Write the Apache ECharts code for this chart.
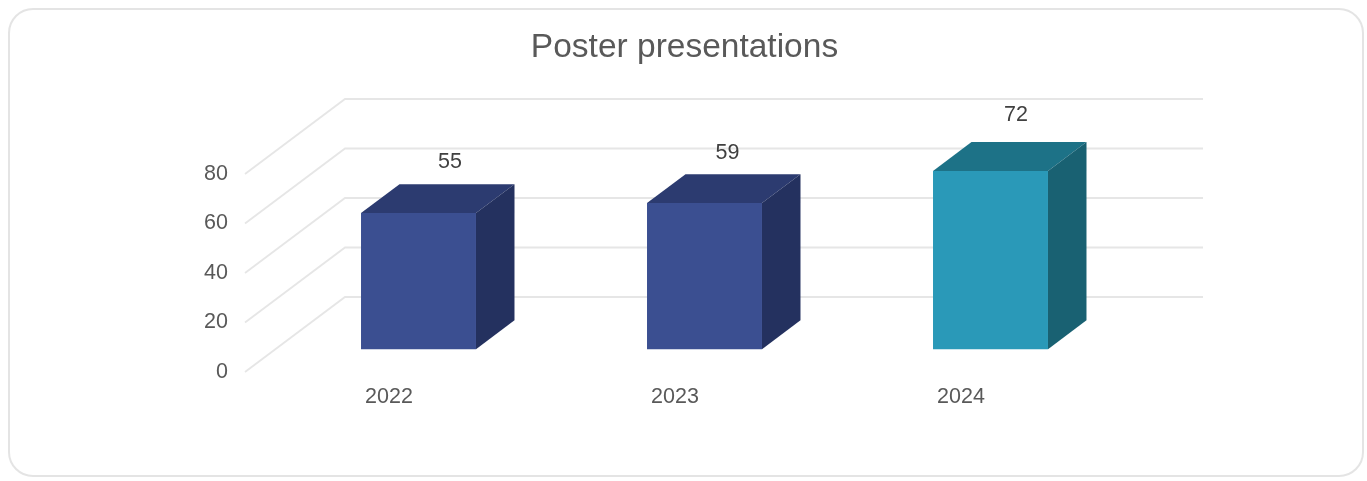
<!DOCTYPE html>
<html>
<head>
<meta charset="utf-8">
<style>html,body{margin:0;padding:0;background:#fff}#c{width:1367px;height:481px}</style>
<script src="https://cdn.jsdelivr.net/npm/echarts@6/dist/echarts.min.js"></script>
</head>
<body>
<div id="c"></div>
<script>
const categories = ['2022', '2023', '2024'];
const values = [55, 59, 72];
const yTicks = [0, 20, 40, 60, 80];

const FONT = '"Liberation Sans", Arial, sans-serif';
const palette = [
  {front: '#3b4f91', top: '#2c3b70', side: '#24315f'},
  {front: '#3b4f91', top: '#2c3b70', side: '#24315f'},
  {front: '#2a99b8', top: '#1d7287', side: '#196172'}
];
// oblique projection of the 3D box: full depth of the floor, in pixels
const DEPTH_X = 100, DEPTH_Y = 75;
const BAR_NEAR = 0.305, BAR_FAR = 0.69, BAR_RATIO = 0.402;
// value-label nudges relative to the projected bar front top centre
const labelDx = [31.5, 23, 25.5], labelDy = [50.5, 50.5, 56];

function renderWall(params, api) {
  const cs = params.coordSys;
  const y = api.coord([0, api.value(0)])[1];
  const x0 = cs.x, x1 = cs.x + DEPTH_X, x2 = cs.x + cs.width + DEPTH_X, y1 = y - DEPTH_Y;
  return {
    type: 'polyline',
    shape: {points: [[x0, y], [x1, y1], [x2, y1]]},
    style: {stroke: '#e6e6e6', lineWidth: 1.8, fill: 'none'},
    silent: true
  };
}

function renderBar(params, api) {
  const i = api.value(0), v = api.value(1);
  const c = palette[i];
  const top = api.coord([i, v]);
  const base = api.coord([i, 0]);
  const w = api.size([1, 0])[0] * BAR_RATIO;
  const dx = DEPTH_X * BAR_NEAR, dy = DEPTH_Y * BAR_NEAR;
  const ex = DEPTH_X * (BAR_FAR - BAR_NEAR), ey = DEPTH_Y * (BAR_FAR - BAR_NEAR);
  const l = top[0] + dx - w / 2, r = l + w, t = top[1] - dy, b = base[1] - dy;
  return {
    type: 'group',
    children: [
      {type: 'polygon', shape: {points: [[l, t], [r, t], [r + ex, t - ey], [l + ex, t - ey]]}, style: {fill: c.top}},
      {type: 'polygon', shape: {points: [[r, t], [r + ex, t - ey], [r + ex, b - ey], [r, b]]}, style: {fill: c.side}},
      {type: 'rect', shape: {x: l, y: t, width: w, height: b - t}, style: {fill: c.front}},
      {type: 'text', style: {
        x: (l + r) / 2 + labelDx[i], y: t - labelDy[i], text: String(v),
        fill: '#404040', font: '21.5px ' + FONT, align: 'center', verticalAlign: 'middle'
      }}
    ]
  };
}

const chart = echarts.init(document.getElementById('c'), null, {renderer: 'canvas'});
chart.setOption({
  animation: false,
  backgroundColor: '#fff',
  graphic: [{
    type: 'rect', z: -10, silent: true,
    shape: {x: 9, y: 9, width: 1354, height: 467, r: 24},
    style: {fill: '#fff', stroke: '#e4e4e4', lineWidth: 2}
  }],
  title: {
    text: 'Poster presentations', left: 679.5, top: 43, textAlign: 'center', textVerticalAlign: 'middle',
    textStyle: {color: '#595959', fontFamily: FONT, fontWeight: 'normal', fontSize: 33.5}
  },
  grid: {left: 245, top: 174, width: 858, height: 198},
  xAxis: {
    type: 'category', data: categories,
    axisLine: {show: false}, axisTick: {show: false}, splitLine: {show: false},
    axisLabel: {color: '#595959', fontFamily: FONT, fontSize: 21.5, margin: 14, padding: [0, 0, 0, 2]}
  },
  yAxis: {
    type: 'value', min: 0, max: 80, interval: 20,
    axisLine: {show: false}, axisTick: {show: false}, splitLine: {show: false},
    axisLabel: {color: '#595959', fontFamily: FONT, fontSize: 21.5, margin: 17, padding: [0, 0, 7, 0]}
  },
  series: [
    {type: 'custom', name: 'Walls', coordinateSystem: 'cartesian2d', z: 1, silent: true,
     renderItem: renderWall, encode: {y: 0}, data: yTicks.map(t => [t])},
    {type: 'custom', name: 'Poster presentations', coordinateSystem: 'cartesian2d', z: 2,
     renderItem: renderBar, encode: {x: 0, y: 1}, data: values.map((v, i) => [i, v])}
  ]
});
</script>
</body>
</html>
